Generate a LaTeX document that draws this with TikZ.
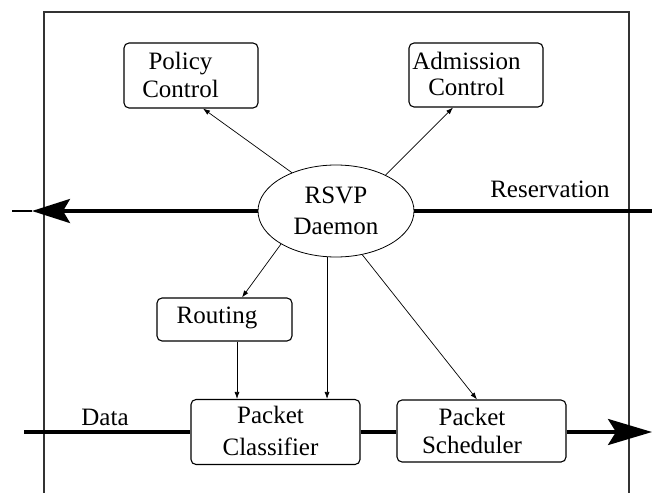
\documentclass[tikz,border=0pt]{standalone}
\usepackage{fontspec}
\setmainfont{Liberation Serif}
\usetikzlibrary{arrows.meta,shapes.geometric}

\tikzset{
  frame/.style={draw=black!80, line width=1.5pt},
  box/.style={draw, line width=1.1pt, rectangle, rounded corners=5pt, inner sep=0pt},
  lbl/.style={font=\fontsize{25}{28}\selectfont, align=center, inner sep=0pt},
  conn/.style={line width=0.7pt, -{Latex[length=7pt,width=5pt]}},
  flow/.style={line width=3.5pt},
}

\begin{document}
\begin{tikzpicture}[x=1pt,y=-1pt]
\useasboundingbox (0,0) rectangle (652,492);

% router frame, open at the bottom
\draw[frame] (44,493) -- (44,12) -- (629,12) -- (629,493);

% functional blocks
\node[box, minimum width=134pt, minimum height=65pt] (pc) at (191,75.5) {};
\node[box, minimum width=134pt, minimum height=64pt] (ac) at (476,75) {};
\node[box, minimum width=135pt, minimum height=43pt] (rt) at (224.5,319.5) {};
\node[box, minimum width=169pt, minimum height=65pt] (cl) at (275.5,432) {};
\node[box, minimum width=169pt, minimum height=62pt] (sc) at (481.5,431) {};

\node[lbl] (pcl) at (180.5,74.5) {Policy\\Control};
\node[lbl, font=\fontsize{25}{26}\selectfont] (acl) at (466.5,73.5) {Admission\\Control};
\node[lbl, anchor=base] (rtl) at (217,323) {Routing};
\node[lbl, font=\fontsize{25}{32}\selectfont] (cll) at (270.5,430.5) {Packet\\Classifier};
\node[lbl] (scl) at (472,430.5) {Packet\\Scheduler};

% daemon
\node[ellipse, draw, line width=0.8pt, minimum width=156pt, minimum height=92pt,
      inner sep=0pt, align=center, font=\fontsize{25}{31}\selectfont] (rsvp) at (336,211) {RSVP\\Daemon};

% flow labels
\node[lbl, anchor=base] (resl) at (550,197) {Reservation};
\node[lbl, anchor=base] (datal) at (105,425) {Data};

% control connectors
\draw[conn] (rsvp.139) -- ([xshift=12pt]pc.south);
\draw[conn] (rsvp.36) -- ([xshift=-23pt]ac.south);
\draw[conn] (rsvp.211) -- ([xshift=17.5pt]rt.north);
\draw[conn] (rsvp.259) -- (rsvp.259 |- cl.north);
\draw[conn] (rsvp.301) -- ([xshift=-4.5pt]sc.north);
\draw[conn] ([xshift=12.5pt]rt.south) -- ([xshift=12.5pt]rt.south |- cl.north);

% reservation path
\coordinate (resTip) at (32,211);
\coordinate (resEnd) at (12,211);
\coordinate (resR) at (652,211);
\draw[flow, -{Stealth[length=38pt,width=24pt,inset=7pt]}] (rsvp.west) -- (resTip);
\draw[line width=1.2pt] (resTip) -- (resEnd);
\draw[flow] (rsvp.east) -- (resR);

% data path
\coordinate (dataIn) at (24,432);
\coordinate (dataOut) at (652,432);
\draw[flow] (dataIn) -- (dataIn -| cl.west);
\draw[flow] (cl.east |- dataIn) -- (sc.west |- dataIn);
\draw[flow, -{Stealth[length=44pt,width=26pt,inset=8pt]}] (sc.east |- dataIn) -- (dataOut);
\end{tikzpicture}
\end{document}
